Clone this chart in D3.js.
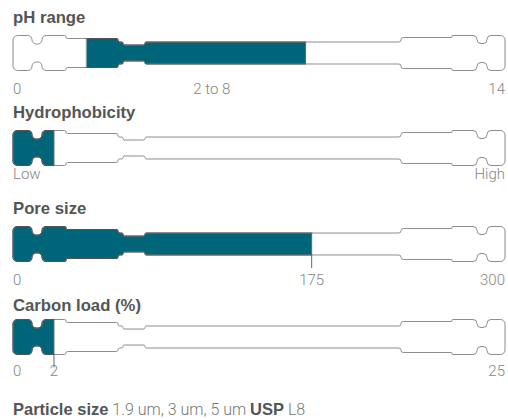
<!DOCTYPE html>
<html><head><meta charset="utf-8">
<script src="https://cdn.jsdelivr.net/npm/d3@7"></script>
<style>
html,body{margin:0;padding:0;background:#fff;}
svg{display:block;}
</style></head>
<body>
<svg id="chart" width="508" height="419"></svg>
<script>
// ---- data ----
const gaugeTitles = ["pH range", "Hydrophobicity", "Pore size", "Carbon load (%)"];
const scaleMin = [0, 0, 0, 0];
const scaleMax = [14, 100, 300, 25];
const fillFrom = [2, 0, 0, 0];
const fillTo = [8, 8, 175, 2];
const minLabels = ["0", "Low", "0", "0"];
const maxLabels = ["14", "High", "300", "25"];
const valueLabels = ["2 to 8", "", "175", "2"];
const valueTicks = [false, false, true, true];
const footerText = [
  {t: "Particle size", b: true},
  {t: " 1.9 um, 3 um, 5 um ", b: false},
  {t: "USP", b: true},
  {t: " L8", b: false}
];

// ---- layout ----
const svg = d3.select("#chart");
const colLeft = 13, colRight = 505;
const TEAL = "#006579";
const titleFont = "'Liberation Sans', Arial, Helvetica, sans-serif";
const labelFont = "Roboto, 'Liberation Sans', sans-serif";
const rowCy = [53, 148, 244, 337];
const rowTitleY = [23, 118, 214, 311];
const rowLabelDy = [40.5, 30.5, 41, 39];

// column profile: [x start, x end, half height] relative to colLeft
const profile = [
  [0, 19, 17.5], [19, 29, 9], [29, 53, 17.5], [53, 105, 14.5],
  [105, 110, 11], [110, 132, 8], [132, 388, 11], [388, 439, 15.5],
  [439, 464, 17.5], [464, 474, 9.5], [474, 492, 17.5]
];

function columnPath(cy) {
  const V = [];
  profile.forEach(s => { V.push([colLeft + s[0], cy - s[2]], [colLeft + s[1], cy - s[2]]); });
  profile.slice().reverse().forEach(s => { V.push([colLeft + s[1], cy + s[2]], [colLeft + s[0], cy + s[2]]); });
  const n = V.length;
  const d = (a, b) => Math.hypot(a[0] - b[0], a[1] - b[1]);
  const p = d3.path();
  const last = V[n - 1], first = V[0];
  p.moveTo((last[0] + first[0]) / 2, (last[1] + first[1]) / 2);
  for (let i = 0; i < n; i++) {
    const prev = V[(i - 1 + n) % n], cur = V[i], next = V[(i + 1) % n];
    const r = Math.min(4.5, d(prev, cur) / 2, d(cur, next) / 2);
    p.arcTo(cur[0], cur[1], next[0], next[1], r);
  }
  p.closePath();
  return p.toString();
}

function halfAt(xAbs) {
  const x = xAbs - colLeft;
  const s = profile.find(s => x >= s[0] && x <= s[1]);
  return s ? s[2] : 11;
}

const defs = svg.append("defs");

gaugeTitles.forEach((title, i) => {
  const cy = rowCy[i];
  const x = d3.scaleLinear().domain([scaleMin[i], scaleMax[i]]).range([colLeft, 525]);
  const g = svg.append("g");

  g.append("text").attr("x", colLeft).attr("y", rowTitleY[i])
    .attr("font-family", titleFont).attr("font-weight", "bold")
    .attr("font-size", 16.7).attr("fill", "#555").text(title);

  const dPath = columnPath(cy);
  const clipId = "clip" + i;
  defs.append("clipPath").attr("id", clipId).append("path").attr("d", dPath);
  const fillClip = "fclip" + i;
  const x0 = x(fillFrom[i]), x1 = x(fillTo[i]);
  defs.append("clipPath").attr("id", fillClip).append("rect")
    .attr("x", x0 - 1).attr("y", cy - 25).attr("width", x1 - x0 + 1.5).attr("height", 50);

  g.append("path").attr("d", dPath).attr("fill", "#fff");
  g.append("rect").attr("clip-path", `url(#${clipId})`)
    .attr("x", x0).attr("y", cy - 25).attr("width", x1 - x0).attr("height", 50)
    .attr("fill", TEAL);
  g.append("path").attr("d", dPath).attr("fill", "none")
    .attr("stroke", "#8d8d8d").attr("stroke-width", 1);
  g.append("path").attr("d", dPath).attr("fill", "none")
    .attr("clip-path", `url(#${fillClip})`)
    .attr("stroke", "#555").attr("stroke-width", 1.2);

  if (fillFrom[i] > scaleMin[i]) {
    const h = halfAt(x0);
    g.append("line").attr("x1", x0).attr("x2", x0).attr("y1", cy - h).attr("y2", cy + h)
      .attr("stroke", "#bbb").attr("stroke-width", 1);
  }
  {
    const h = halfAt(x1);
    g.append("line").attr("x1", x1).attr("x2", x1).attr("y1", cy - h)
      .attr("y2", valueTicks[i] ? cy + h + 13 : cy + h)
      .attr("stroke", "#666").attr("stroke-width", 1);
  }

  const ly = cy + rowLabelDy[i];
  const lab = (t, xx, anchor) => g.append("text").attr("x", xx).attr("y", ly)
    .attr("text-anchor", anchor).attr("font-family", labelFont).attr("font-weight", 300)
    .attr("font-size", 15).attr("fill", "#858585").text(t);
  lab(minLabels[i], colLeft, "start");
  lab(maxLabels[i], colRight, "end");
  if (valueLabels[i]) {
    if (fillFrom[i] > scaleMin[i]) {
      lab(valueLabels[i], x((fillFrom[i] + fillTo[i]) / 2) + 16, "middle");
    } else {
      lab(valueLabels[i], x1, "middle");
    }
  }
});

const ft = svg.append("text").attr("x", colLeft).attr("y", 415)
  .attr("fill", "#555").attr("xml:space", "preserve");
footerText.forEach(p => {
  ft.append("tspan").attr("font-family", p.b ? titleFont : labelFont)
    .attr("font-weight", p.b ? "bold" : 300)
    .attr("font-size", p.b ? 16.5 : 16)
    .attr("fill", p.b ? "#555" : "#777")
    .attr("xml:space", "preserve").text(p.t);
});
</script>
</body></html>
